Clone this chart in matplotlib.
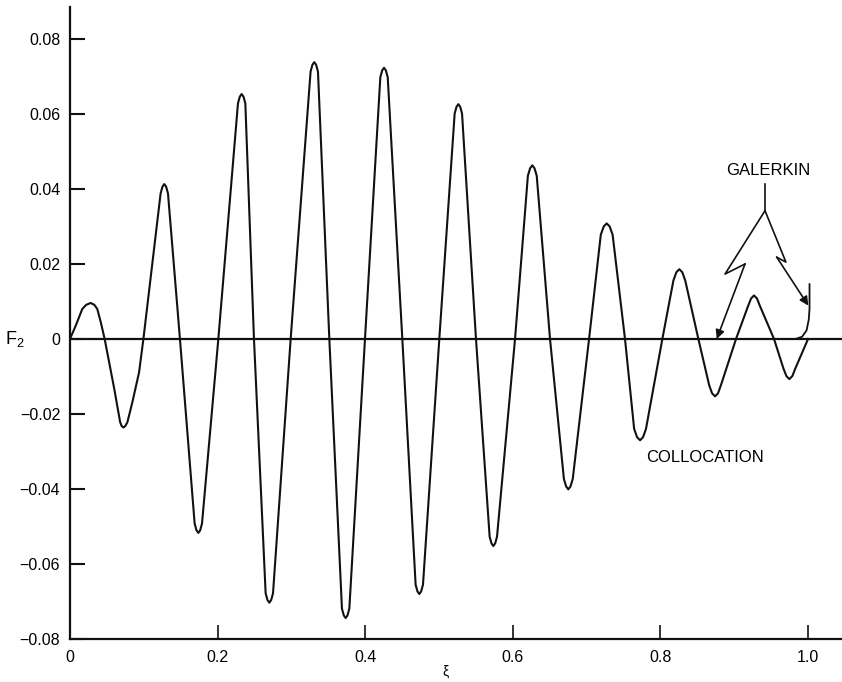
import matplotlib
matplotlib.use("Agg")
import matplotlib.pyplot as plt

plt.rcParams['font.family'] = ['Liberation Sans', 'DejaVu Sans']
plt.rcParams['mathtext.default'] = 'regular'

# collocation curve, points (xi, F2)
x_col = [0.0, 0.0077, 0.0167, 0.022, 0.028, 0.033, 0.037, 0.0417, 0.047, 0.053, 0.060, 0.0656, 0.068, 0.070, 0.0723, 0.075, 0.0778, 0.0845, 0.0936, 0.0995,
         0.1228, 0.1253, 0.1278, 0.1303, 0.1328, 0.149,
         0.1689, 0.1714, 0.1739, 0.1764, 0.1789, 0.201,
         0.2276, 0.2301, 0.2326, 0.2351, 0.2376, 0.2493,
         0.2651, 0.2676, 0.2701, 0.2726, 0.2751, 0.299,
         0.326, 0.3285, 0.331, 0.3335, 0.336, 0.3514,
         0.3685, 0.371, 0.3735, 0.376, 0.3785, 0.3997,
         0.4205, 0.423, 0.4255, 0.428, 0.4305, 0.4503,
         0.4683, 0.4708, 0.4733, 0.4758, 0.4783, 0.5004,
         0.5212, 0.5237, 0.5262, 0.5287, 0.5312, 0.5501,
         0.5686, 0.5711, 0.5736, 0.5761, 0.5786, 0.603,
         0.6204, 0.6234, 0.6264, 0.6294, 0.6324, 0.6504,
         0.6692, 0.6722, 0.6752, 0.6782, 0.6812, 0.7033,
         0.7192, 0.7232, 0.7272, 0.7312, 0.7352, 0.752,
         0.7644, 0.7684, 0.7724, 0.7764, 0.7804, 0.8026,
         0.8176, 0.8216, 0.8256, 0.8296, 0.8336, 0.8514,
         0.866, 0.870, 0.874, 0.878, 0.882, 0.9024,
         0.9188, 0.9228, 0.9268, 0.9308, 0.9348, 0.9539,
         0.9667, 0.9707, 0.9747, 0.9787, 0.9827, 1.0]
y_col = [0.0, 0.0035, 0.0080, 0.0091, 0.0096, 0.0091, 0.0080, 0.0045, 0.0, -0.0062, -0.0133, -0.0196, -0.0222, -0.0232, -0.0236, -0.0232, -0.0222, -0.0169, -0.0089, 0.0,
         0.0388, 0.0406, 0.0413, 0.0406, 0.0388, 0.0,
         -0.0492, -0.0510, -0.0517, -0.0510, -0.0492, 0.0,
         0.0628, 0.0646, 0.0653, 0.0646, 0.0628, 0.0,
         -0.0678, -0.0696, -0.0703, -0.0696, -0.0678, 0.0,
         0.0713, 0.0731, 0.0738, 0.0731, 0.0713, 0.0,
         -0.0719, -0.0737, -0.0744, -0.0737, -0.0719, 0.0,
         0.0698, 0.0716, 0.0723, 0.0716, 0.0698, 0.0,
         -0.0655, -0.0673, -0.068, -0.0673, -0.0655, 0.0,
         0.0601, 0.0619, 0.0626, 0.0619, 0.0601, 0.0,
         -0.0527, -0.0545, -0.0552, -0.0545, -0.0527, 0.0,
         0.0435, 0.0455, 0.0463, 0.0455, 0.0435, 0.0,
         -0.0373, -0.0393, -0.0401, -0.0393, -0.0373, 0.0,
         0.0278, 0.0300, 0.0308, 0.0300, 0.0278, 0.0,
         -0.024, -0.0262, -0.027, -0.0262, -0.024, 0.0,
         0.0156, 0.0178, 0.0186, 0.0178, 0.0156, 0.0,
         -0.0123, -0.0145, -0.0153, -0.0145, -0.0123, 0.0,
         0.0088, 0.0108, 0.0116, 0.0108, 0.0088, 0.0,
         -0.0079, -0.0099, -0.0107, -0.0099, -0.0079, 0.0]

# galerkin end hook (lies on the axis before that)
x_gal = [0.96, 0.983, 0.992, 0.998, 1.001, 1.002, 1.002]
y_gal = [0.0, 0.0, 0.0006, 0.0023, 0.0052, 0.0081, 0.0146]

x_ticks = [0, 0.2, 0.4, 0.6, 0.8, 1.0]
x_labels = ['0', '0.2', '0.4', '0.6', '0.8', '1.0']
y_ticks = [-0.08, -0.06, -0.04, -0.02, 0, 0.02, 0.04, 0.06, 0.08]
y_labels = ['\u22120.08', '\u22120.06', '\u22120.04', '\u22120.02', '0', '0.02', '0.04', '0.06', '0.08']

ink = '#111111'

fig = plt.figure(figsize=(8.42, 6.82), dpi=100)
ax = fig.add_axes([0.0831, 0.063, 0.9169, 0.9267])

ax.axhline(0, color=ink, lw=1.6)
ax.plot(x_col, y_col, color=ink, lw=1.5, solid_joinstyle='round')
ax.plot(x_gal, y_gal, color=ink, lw=1.3, solid_joinstyle='round')

ax.set_xlim(0, 1.046)
ax.set_ylim(-0.08, 0.0885)

for s in ['top', 'right']:
    ax.spines[s].set_visible(False)
for s in ['left', 'bottom']:
    ax.spines[s].set_linewidth(1.6)
    ax.spines[s].set_color(ink)

ax.set_xticks(x_ticks)
ax.set_xticklabels(x_labels)
ax.set_yticks(y_ticks)
ax.set_yticklabels(y_labels)
ax.tick_params(axis='y', direction='in', length=11, width=1.5, pad=7, labelsize=11.5, color=ink)
ax.tick_params(axis='x', direction='in', length=10, width=1.2, pad=8, labelsize=11.5, color=ink)

ax.set_ylabel('F$_2$', rotation=0, fontsize=13, ha='left', va='center')
ax.yaxis.set_label_coords(-0.084, 0.4748)
ax.set_xlabel('\u03be', fontsize=10, va='top')
ax.xaxis.set_label_coords(0.486, -0.040)

# GALERKIN leader with two arrows
ax.text(0.946, 0.0448, 'GALERKIN', fontsize=12, ha='center', va='center')
ax.plot([0.9417, 0.9417], [0.0413, 0.0342], color=ink, lw=1.2)
ax.plot([0.9417, 0.8875, 0.9146], [0.0342, 0.0173, 0.0200], color=ink, lw=1.2)
ax.plot([0.9417, 0.970, 0.9576], [0.0342, 0.0205, 0.0218], color=ink, lw=1.2)
arrow = dict(arrowstyle='-|>', mutation_scale=13, lw=1.2, color=ink, shrinkA=0, shrinkB=0)
ax.annotate('', xy=(0.8763, 0.0), xytext=(0.9146, 0.0200), arrowprops=arrow)
ax.annotate('', xy=(1.0004, 0.0089), xytext=(0.9576, 0.0218), arrowprops=arrow)

ax.text(0.781, -0.0317, 'COLLOCATION', fontsize=12, ha='left', va='center')

fig.savefig('out.png', dpi=100)
